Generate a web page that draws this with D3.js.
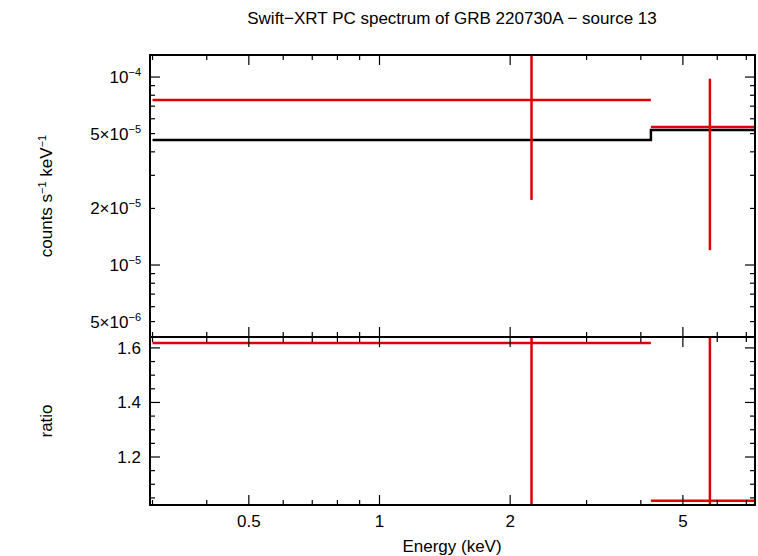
<!DOCTYPE html>
<html><head><meta charset="utf-8">
<script src="https://cdn.jsdelivr.net/npm/d3@7"></script>
<style>body{margin:0;background:#fff}text{font-family:"Liberation Sans",Arial,sans-serif}</style>
</head><body><svg id="c" width="758" height="556"></svg>
<script>
// data bins: [eLo, eHi, eCenter]
const binLo = [0.3, 4.22];
const binHi = [4.22, 7.33];
const binMid = [2.24, 5.77];
const rate = [7.55e-5, 5.42e-5];
const rateLo = [2.22e-5, 1.2e-5];
const rateHi = [2.0e-4, 9.8e-5];
const model = [4.63e-5, 5.22e-5];
const ratio = [1.618, 1.04];
const ratioLo = [0.9, 0.9];
const ratioHi = [2.0, 2.0];
const xTicks = [0.5, 1, 2, 5];
const yTopTicks = [[1e-4, "10", "−4"], [5e-5, "5×10", "−5"], [2e-5, "2×10", "−5"], [1e-5, "10", "−5"], [5e-6, "5×10", "−6"]];
const yBotTicks = [1.2, 1.4, 1.6];

const svg = d3.select("#c");
const L = 150, R = 755, T = 55, M = 337, B = 505;
const x = d3.scaleLog().domain([0.296, 7.33]).range([L, R]);
const yT = d3.scaleLog().domain([4.14e-6, 1.31e-4]).range([M, T]);
const yB = d3.scaleLinear().domain([1.024, 1.64]).range([B, M]);

svg.append("defs").selectAll("clipPath").data([["ct", T, M], ["cb", M, B]]).join("clipPath")
  .attr("id", d => d[0]).append("rect").attr("x", L).attr("y", d => d[1]).attr("width", R - L).attr("height", d => d[2] - d[1]);

const red = "#e00000";
function panel(y, y0, y1, clip, vals, lo, hi, mdl) {
  const g = svg.append("g").attr("clip-path", `url(#${clip})`);
  if (mdl) {
    g.append("path").attr("fill", "none").attr("stroke", "#000").attr("stroke-width", 2.5)
      .attr("d", d3.line()(binLo.flatMap((l, i) => [[x(l), y(mdl[i])], [x(binHi[i]), y(mdl[i])]])));
  }
  vals.forEach((v, i) => {
    g.append("line").attr("x1", x(binLo[i])).attr("x2", x(binHi[i])).attr("y1", y(v)).attr("y2", y(v)).attr("stroke", red).attr("stroke-width", 2.5);
    g.append("line").attr("x1", x(binMid[i])).attr("x2", x(binMid[i])).attr("y1", y(lo[i])).attr("y2", y(hi[i])).attr("stroke", red).attr("stroke-width", 2.5);
  });
}
panel(yT, T, M, "ct", rate, rateLo, rateHi, model);
panel(yB, M, B, "cb", ratio, ratioLo, ratioHi, null);

// x ticks (both panels, top and bottom edges)
const xMinor = [];
for (const d of [0.1, 1]) for (let k = 1; k < 10; k++) { const v = d * k; if (v >= 0.296 && v <= 7.33) xMinor.push(v); }
const tk = svg.append("g").attr("stroke", "#000").attr("stroke-width", 1.2);
for (const [y0, y1] of [[T, M], [M, B]]) {
  xMinor.forEach(v => {
    const big = xTicks.includes(v) || v === 1;
    const len = big ? 10 : 5;
    tk.append("line").attr("x1", x(v)).attr("x2", x(v)).attr("y1", y0).attr("y2", y0 + len);
    tk.append("line").attr("x1", x(v)).attr("x2", x(v)).attr("y1", y1).attr("y2", y1 - len);
  });
}
// top y ticks
for (let e = -6; e <= -4; e++) for (let k = 1; k < 10; k++) {
  const v = k * Math.pow(10, e);
  if (v < 4.14e-6 || v > 1.31e-4) continue;
  const len = k === 1 ? 10 : 5;
  tk.append("line").attr("x1", L).attr("x2", L + len).attr("y1", yT(v)).attr("y2", yT(v));
  tk.append("line").attr("x1", R).attr("x2", R - len).attr("y1", yT(v)).attr("y2", yT(v));
}
// bottom y ticks
d3.range(1.05, 1.64, 0.05).forEach(v => {
  const big = Math.abs(v * 10 - Math.round(v * 10)) < 1e-6 && Math.round(v * 10) % 2 === 0;
  const len = big ? 10 : 5;
  tk.append("line").attr("x1", L).attr("x2", L + len).attr("y1", yB(v)).attr("y2", yB(v));
  tk.append("line").attr("x1", R).attr("x2", R - len).attr("y1", yB(v)).attr("y2", yB(v));
});

svg.append("rect").attr("x", L).attr("y", T).attr("width", R - L).attr("height", B - T).attr("fill", "none").attr("stroke", "#000").attr("stroke-width", 2);
svg.append("line").attr("x1", L).attr("x2", R).attr("y1", M).attr("y2", M).attr("stroke", "#000").attr("stroke-width", 2);

const fs = 17;
svg.selectAll(".xl").data(xTicks).join("text").attr("x", d => x(d)).attr("y", 527).attr("text-anchor", "middle").attr("font-size", fs).text(d => d);
yTopTicks.forEach(([v, a, b]) => {
  const t = svg.append("text").attr("x", 141).attr("y", yT(v) + 6).attr("text-anchor", "end").attr("font-size", fs);
  t.append("tspan").text(a);
  t.append("tspan").attr("dy", -7).attr("font-size", 11).text(b);
});
svg.selectAll(".yl").data(yBotTicks).join("text").attr("x", 141).attr("y", d => yB(d) + 6).attr("text-anchor", "end").attr("font-size", fs).text(d => d.toFixed(1));

svg.append("text").attr("x", 452).attr("y", 24).attr("text-anchor", "middle").attr("font-size", 17).text("Swift−XRT PC spectrum of GRB 220730A − source 13");
svg.append("text").attr("x", 452).attr("y", 552).attr("text-anchor", "middle").attr("font-size", 17).text("Energy (keV)");
const yl = svg.append("text").attr("transform", "translate(52,196) rotate(-90)").attr("text-anchor", "middle").attr("font-size", 17);
yl.append("tspan").text("counts s");
yl.append("tspan").attr("dy", -6).attr("font-size", 11).text("−1");
yl.append("tspan").attr("dy", 6).text(" keV");
yl.append("tspan").attr("dy", -6).attr("font-size", 11).text("−1");
svg.append("text").attr("transform", "translate(52,421) rotate(-90)").attr("text-anchor", "middle").attr("font-size", 17).text("ratio");
</script></body></html>
